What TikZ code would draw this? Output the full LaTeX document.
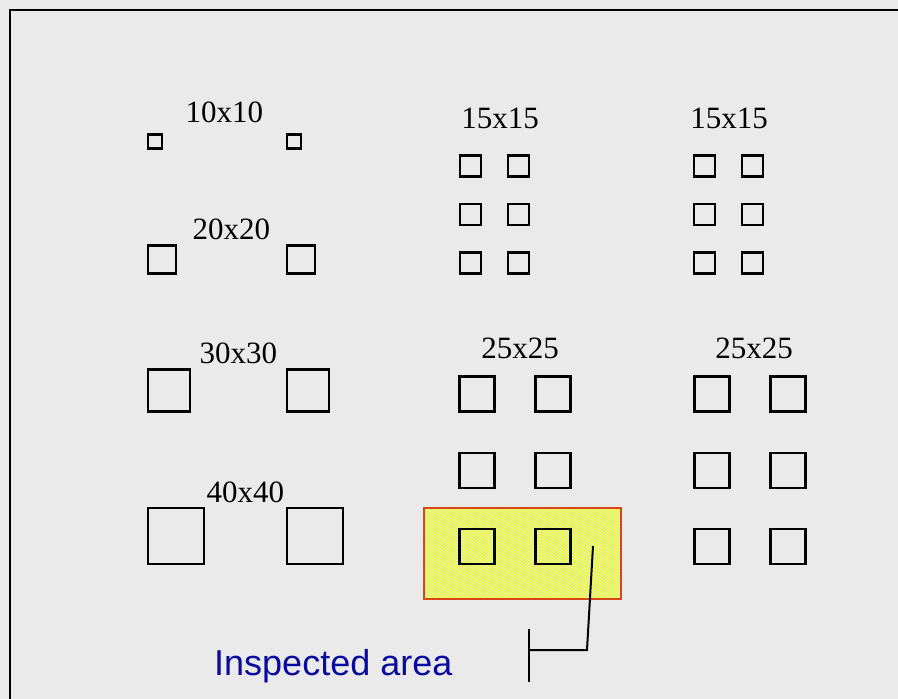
\documentclass[tikz,border=0pt]{standalone}
\usepackage{fontspec}
\setmainfont{Liberation Serif}
\setsansfont{Liberation Sans}
\usetikzlibrary{patterns}
\definecolor{slidegray}{RGB}{234,234,234}
\definecolor{areablue}{RGB}{10,10,160}
\definecolor{areared}{RGB}{215,70,20}
\definecolor{areayellow}{RGB}{230,244,70}
\definecolor{areahatch}{RGB}{246,250,200}
\tikzset{
  pad/.style={draw, line width=2.3pt, inner sep=0pt, outer sep=0pt, minimum size=#1},
  padlabel/.style={font=\fontsize{31}{31}\selectfont, inner sep=0pt, anchor=base},
  area/.style={draw=areared, line width=2pt, preaction={fill=areayellow},
    pattern=north east lines, pattern color=areahatch, inner sep=0pt, outer sep=0pt},
}
\begin{document}
\begin{tikzpicture}[x=1pt,y=-1pt]
\useasboundingbox[fill=slidegray] (0,0) rectangle (898,699);
\draw[line width=2.5pt] (10,699) -- (10,10) -- (898,10);

% inspected area, behind the pads
\node[area, minimum width=197pt, minimum height=91pt] (insp) at (522.5,553.5) {};

% left column: single pairs
\foreach \n/\s/\y/\b in {10/14/141.5/122, 20/28/259.5/239, 30/42/390.5/363, 40/56/536/502} {
  \node[pad=\s pt] (l\n a) at ({147.8+\s/2},\y) {};
  \node[pad=\s pt] (l\n b) at ({286.8+\s/2},\y) {};
  \node[padlabel] (t\n) at ({217.3+\s/2},\b) {\n x\n};
}

% 15x15 groups
\foreach \gx/\g/\lx in {0/m/500, 234/r/729} {
  \foreach \row/\y in {1/166, 2/214.5, 3/263} {
    \node[pad=21pt] (\g s\row a) at ({470.5+\gx},\y) {};
    \node[pad=21pt] (\g s\row b) at ({518.5+\gx},\y) {};
  }
  \node[padlabel] (\g s) at (\lx,128) {15x15};
}

% 25x25 groups
\foreach \gx/\g/\lx in {0/m/520, 235/r/754} {
  \foreach \row/\y in {1/394, 2/470.5, 3/546.5} {
    \node[pad=35pt] (\g q\row a) at ({477+\gx},\y) {};
    \node[pad=35pt] (\g q\row b) at ({553+\gx},\y) {};
  }
  \node[padlabel] (\g q) at (\lx,358) {25x25};
}

% leader to the label
\coordinate (tip) at (593,546);
\coordinate (knee) at (587,650);
\coordinate (barmid) at (529,650);
\coordinate (bartop) at (529,629);
\coordinate (barbot) at (529,682);
\draw[line width=2pt] (tip) -- (knee) -- (barmid);
\draw[line width=2pt] (bartop) -- (barbot);
\node[font=\sffamily\fontsize{36}{36}\selectfont, text=areablue, anchor=base west, inner sep=0pt] (lbl) at (214,675) {Inspected area};
\end{tikzpicture}
\end{document}
